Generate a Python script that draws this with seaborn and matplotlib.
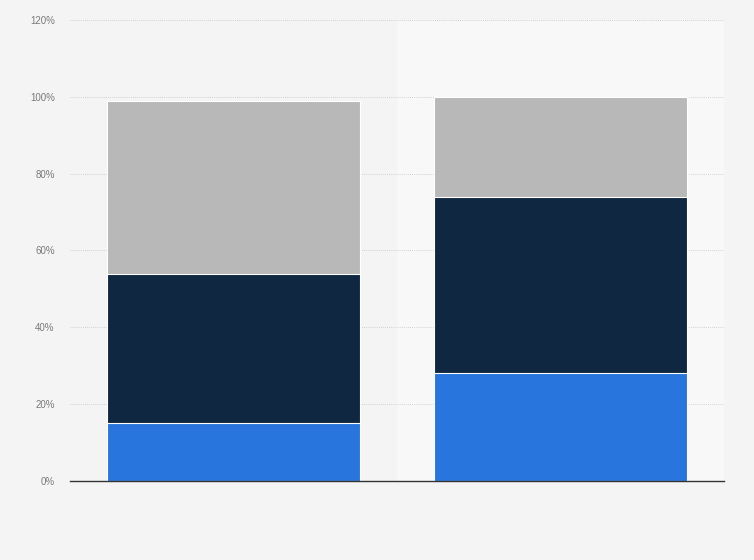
import matplotlib

matplotlib.use("Agg")
import matplotlib.pyplot as plt
import numpy as np
import pandas as pd
import seaborn as sns
from matplotlib.ticker import FuncFormatter

# Data (shares in percent)
categories = ["Group 1", "Group 2"]
series_names = ["Segment 1", "Segment 2", "Segment 3"]
segment_1 = [15, 28]
segment_2 = [39, 46]
segment_3 = [45, 26]
colors = ["#2876dd", "#0f2740", "#b8b8b8"]
y_ticks = [0, 20, 40, 60, 80, 100, 120]

sns.set_theme(style="white")
plt.rcParams["font.family"] = ["Liberation Sans", "DejaVu Sans"]

df = pd.DataFrame({"category": categories,
                   series_names[0]: segment_1,
                   series_names[1]: segment_2,
                   series_names[2]: segment_3})
cum = df[series_names].cumsum(axis=1)

fig = plt.figure(figsize=(7.54, 5.6), dpi=100, facecolor="#f4f4f4")
ax = fig.add_axes([0.0928, 0.1411, 0.8674, 0.8232])
ax.set_facecolor("#f4f4f4")

# highlighted band behind the second category
ax.axvspan(0.5, 1.5, color="#f8f8f8", zorder=0)

for name, color in reversed(list(zip(series_names, colors))):
    sns.barplot(x=df["category"], y=cum[name], color=color, width=0.774,
                edgecolor="white", linewidth=0.8, saturation=1, ax=ax, zorder=3)

ax.set_xlim(-0.5, 1.5)
ax.set_ylim(0, 120)
ax.set_yticks(y_ticks)
ax.yaxis.set_major_formatter(FuncFormatter(lambda v, _: f"{v:.0f}%"))
ax.grid(axis="y", color="#c4c4c4", linestyle=(0, (1, 1.5)), linewidth=0.6, zorder=1)
ax.set_axisbelow(True)
ax.tick_params(axis="y", labelsize=7, colors="#7a7a7a", length=0, pad=11)
ax.tick_params(axis="x", length=0)
ax.set_xticklabels([])
ax.set_xlabel("")
ax.set_ylabel("")
for side in ["top", "right", "left"]:
    ax.spines[side].set_visible(False)
ax.spines["bottom"].set_color("#333333")
ax.spines["bottom"].set_linewidth(1.0)
ax.spines["bottom"].set_zorder(5)

fig.savefig("out.png", dpi=100, facecolor=fig.get_facecolor())
